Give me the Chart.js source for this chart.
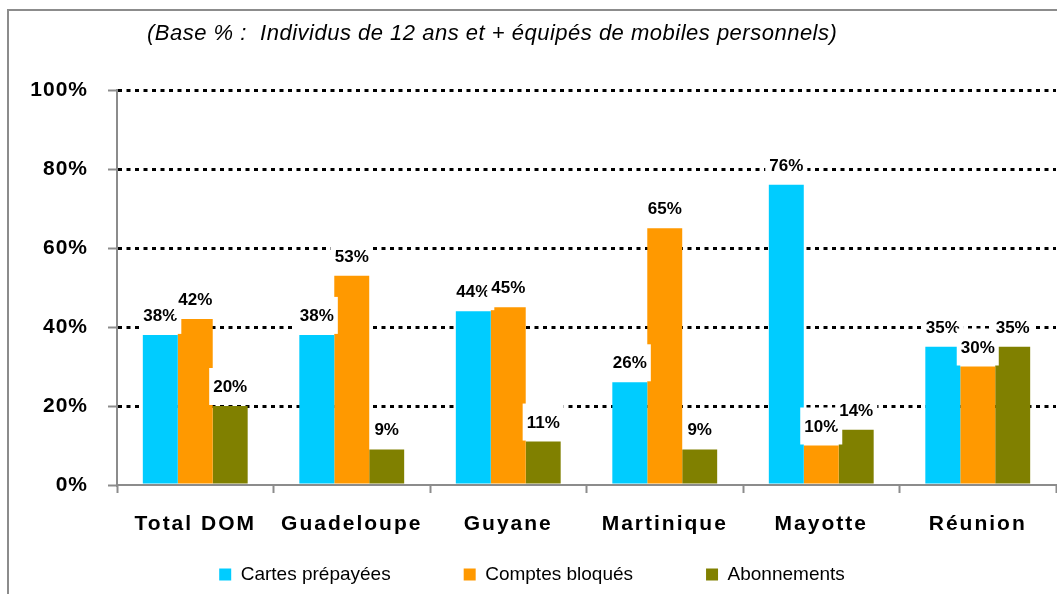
<!DOCTYPE html>
<html>
<head>
<meta charset="utf-8">
<script src="https://cdn.jsdelivr.net/npm/chart.js@4"></script>
<style>
  body { margin: 0; background: #fff; }
  #wrap { width: 1057px; height: 594px; position: relative; }
</style>
</head>
<body>
<div id="wrap"><canvas id="myChart"></canvas></div>
<script>
// data
var categories = ['Total DOM', 'Guadeloupe', 'Guyane', 'Martinique', 'Mayotte', 'Réunion'];
var cartesPrepayees = [38, 38, 44, 26, 76, 35];
var comptesBloques = [42, 53, 45, 65, 10, 30];
var abonnements = [20, 9, 11, 9, 14, 35];
var seriesNames = ['Cartes prépayées', 'Comptes bloqués', 'Abonnements'];
var titleText = '(Base % :  Individus de 12 ans et + équipés de mobiles personnels)';

var FONT = '"Liberation Sans", Arial, sans-serif';

// frame + title text
var framePlugin = {
    id: 'frame',
    beforeDraw: function (chart) {
        var c = chart.ctx;
        c.save();
        c.strokeStyle = '#8c8c8c';
        c.lineWidth = 2;
        c.beginPath();
        c.moveTo(8, chart.height);
        c.lineTo(8, 10);
        c.lineTo(chart.width, 10);
        c.stroke();
        c.font = 'italic 22px ' + FONT;
        c.letterSpacing = '0.5px';
        c.fillStyle = '#000';
        c.textAlign = 'left';
        c.textBaseline = 'middle';
        c.fillText(titleText, 147, 34);
        c.restore();
    }
};

// value labels on white boxes above the bars
var valueLabels = {
    id: 'valueLabels',
    afterDatasetsDraw: function (chart) {
        var c = chart.ctx;
        c.save();
        c.font = 'bold 17px ' + FONT;
        c.textAlign = 'center';
        c.textBaseline = 'alphabetic';
        chart.data.datasets.forEach(function (ds, i) {
            chart.getDatasetMeta(i).data.forEach(function (bar, j) {
                var txt = ds.data[j] + '%';
                var w = c.measureText(txt).width;
                c.fillStyle = '#fff';
                c.fillRect(bar.x - w / 2 - 4, bar.y - 38, w + 8, 37);
                c.fillStyle = '#000';
                c.fillText(txt, bar.x, bar.y - 14);
            });
        });
        c.restore();
    }
};

// a bit of letter spacing on the axis labels, and no clipping of the x labels
var spacedTicks = {
    id: 'spacedTicks',
    afterUpdate: function (chart) {
        Object.values(chart.scales).forEach(function (s) {
            if (s._spaced) return;
            var orig = s.drawLabels;
            s.drawLabels = function (area) {
                var prev = this.ctx.letterSpacing;
                this.ctx.letterSpacing = this.axis === 'x' ? '2px' : '1px';
                orig.call(this, area);
                this.ctx.letterSpacing = prev;
            };
            if (s.axis === 'x') {
                s._computeLabelArea = function () { return undefined; };
            }
            s._spaced = true;
        });
    }
};

var ctx = document.getElementById('myChart').getContext('2d');
var chart = new Chart(ctx, {
    type: 'bar',
    data: {
        labels: categories,
        datasets: [
            { label: seriesNames[0], data: cartesPrepayees, backgroundColor: '#00CCFF' },
            { label: seriesNames[1], data: comptesBloques, backgroundColor: '#FF9900' },
            { label: seriesNames[2], data: abonnements, backgroundColor: '#808000' }
        ]
    },
    options: {
        responsive: true,
        maintainAspectRatio: false,
        animation: false,
        layout: { padding: { top: 90, left: 8, right: 1, bottom: 0 } },
        datasets: { bar: { categoryPercentage: 0.67, barPercentage: 1.0 } },
        plugins: {
            legend: {
                position: 'bottom',
                labels: {
                    boxWidth: 12,
                    boxHeight: 12,
                    padding: 73,
                    color: '#000',
                    font: { family: FONT, size: 19 }
                }
            },
            tooltip: { enabled: false },
            title: { display: false }
        },
        scales: {
            x: {
                afterFit: function (s) { s.height = 7; },
                grid: {
                    offset: true,
                    drawOnChartArea: false,
                    tickLength: 8,
                    tickColor: '#8c8c8c',
                    tickWidth: 2
                },
                border: { color: '#8c8c8c', width: 2 },
                ticks: {
                    padding: 19,
                    color: '#000',
                    font: { family: FONT, size: 21, weight: 'bold' }
                }
            },
            y: {
                min: 0,
                max: 100,
                afterFit: function (s) { s.width = 109; },
                grid: {
                    color: function (c) { return c.tick && c.tick.value === 0 ? 'rgba(0,0,0,0)' : '#000'; },
                    lineWidth: 3,
                    tickLength: 9,
                    tickColor: '#8c8c8c',
                    tickWidth: 2,
                    tickBorderDash: []
                },
                border: { color: '#8c8c8c', width: 2, dash: [4, 4.5] },
                ticks: {
                    stepSize: 20,
                    padding: 20,
                    color: '#000',
                    font: { family: FONT, size: 21, weight: 'bold' },
                    callback: function (v) { return v + '%'; }
                }
            }
        }
    },
    plugins: [framePlugin, valueLabels, spacedTicks]
});
</script>
</body>
</html>
